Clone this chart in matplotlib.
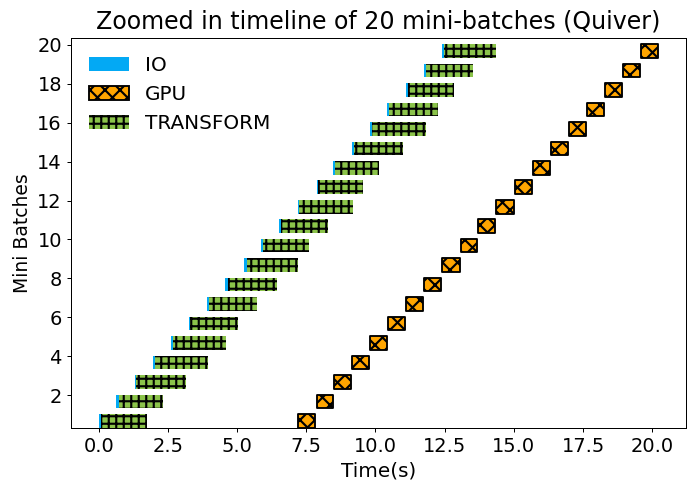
import numpy as np
import matplotlib
matplotlib.use('Agg')
import matplotlib.pyplot as plt

# timeline of 20 mini-batches, values in seconds
batches = np.arange(1, 21)
io_start = [0.00, 0.64, 1.32, 1.97, 2.62, 3.27, 3.92, 4.57, 5.26, 5.87,
            6.52, 7.21, 7.90, 8.47, 9.16, 9.81, 10.43, 11.12, 11.76, 12.41]
transform_start = [0.10, 0.75, 1.35, 2.05, 2.70, 3.31, 4.00, 4.68, 5.37, 5.95,
                   6.60, 7.25, 7.93, 8.54, 9.23, 9.88, 10.50, 11.16, 11.83, 12.48]
transform_end = [1.75, 2.32, 3.17, 3.96, 4.60, 5.04, 5.73, 6.45, 7.21, 7.61,
                 8.29, 9.20, 9.56, 10.14, 11.00, 11.84, 12.27, 12.85, 13.53, 14.36]
gpu_start = [7.19, 7.88, 8.50, 9.15, 9.80, 10.45, 11.10, 11.75, 12.40, 13.08,
             13.71, 14.36, 15.03, 15.68, 16.34, 16.99, 17.64, 18.29, 18.95, 19.61]
gpu_end = [7.82, 8.46, 9.11, 9.76, 10.41, 11.07, 11.72, 12.38, 13.06, 13.68,
           14.33, 15.00, 15.65, 16.30, 16.95, 17.60, 18.25, 18.91, 19.56, 20.21]

plt.rcParams['hatch.linewidth'] = 1.7
plt.rcParams['font.size'] = 16

fig = plt.figure(figsize=(696 / 90, 497 / 90), dpi=90)
ax = fig.add_axes([0.1016, 0.1382, 0.884, 0.7847])

h = 0.7
for i in range(len(batches)):
    y0 = batches[i] - h + 0.03
    ax.broken_barh([(io_start[i], transform_start[i] - io_start[i])], (y0, h),
                   facecolors='#03A9F4', linewidth=0,
                   label='IO' if i == 0 else None)
    ax.broken_barh([(gpu_start[i], gpu_end[i] - gpu_start[i])], (y0, h),
                   facecolors='#FFA500', edgecolors='black', linewidth=1.5, hatch='xx',
                   label='GPU' if i == 0 else None)
    ax.broken_barh([(transform_start[i], transform_end[i] - transform_start[i])], (y0, h),
                   facecolors='#8BC34A', edgecolors='black', linewidth=0, hatch='++',
                   label='TRANSFORM' if i == 0 else None)

ax.set_ylim(0.3, 20.33)
ax.set_yticks(np.arange(2, 21, 2))
ax.set_xlabel('Time(s)', fontsize=16, labelpad=4)
ax.set_ylabel('Mini Batches', fontsize=15)
ax.set_title('Zoomed in timeline of 20 mini-batches (Quiver)', fontsize=19, pad=8)
ax.tick_params(labelsize=15.5)
ax.legend(loc='upper left', frameon=False, fontsize=16)

fig.savefig('out.png', dpi=90)
